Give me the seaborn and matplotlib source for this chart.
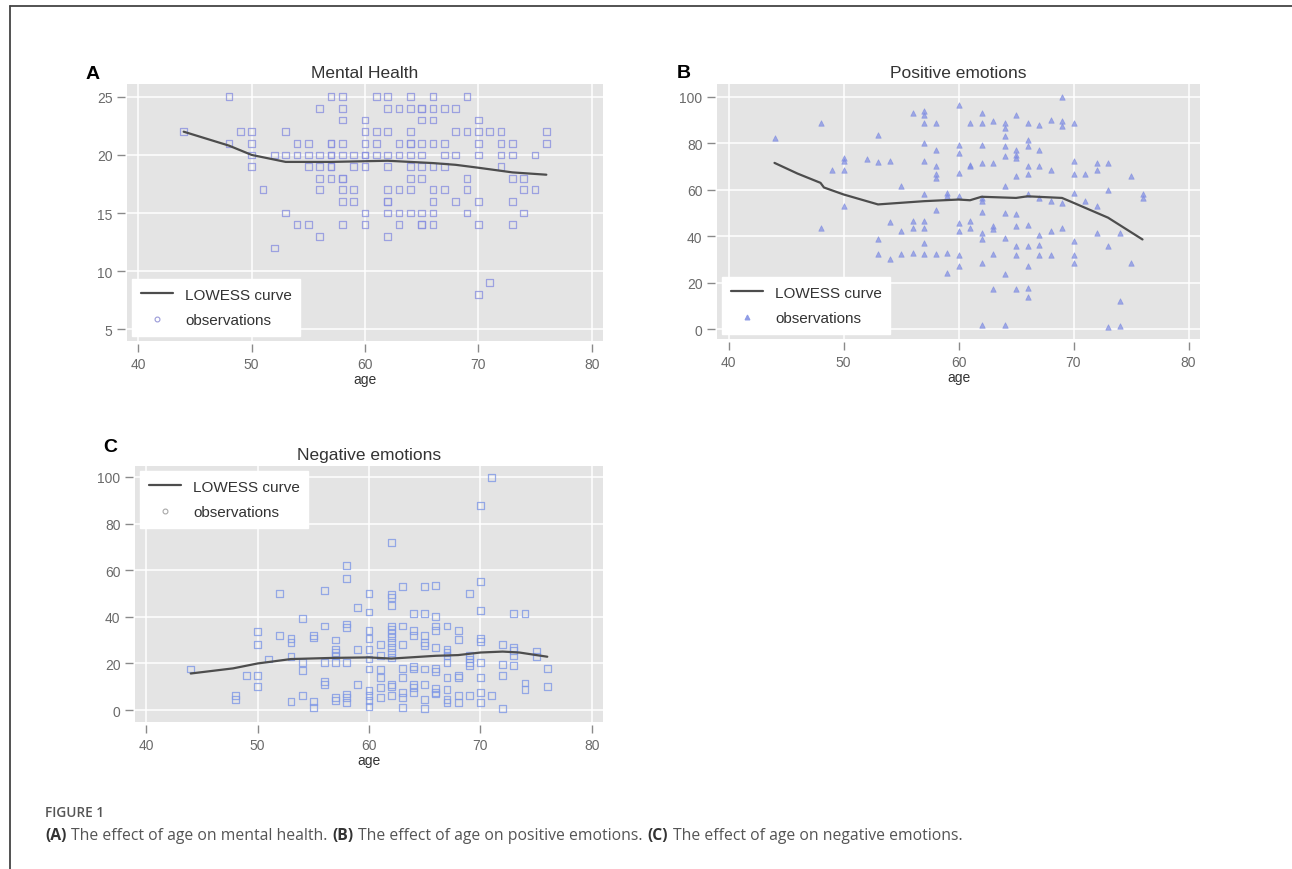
import numpy as np
import pandas as pd
import seaborn as sns
import matplotlib
matplotlib.use("Agg")
from matplotlib import pyplot as plt
from matplotlib.lines import Line2D

# ---- data: (age, score) ----
mental_points = [
    (48, 25), (57, 25), (58, 25), (61, 25), (62, 25), (64, 25), (66, 25), (69, 25),
    (56, 24), (58, 24), (62, 24), (63, 24), (64, 24), (65, 24), (65, 24), (66, 24), (67, 24), (68, 24),
    (58, 23), (60, 23), (65, 23), (66, 23), (70, 23),
    (44, 22), (49, 22), (50, 22), (53, 22), (60, 22), (61, 22), (62, 22), (64, 22), (68, 22),
    (69, 22), (70, 22), (71, 22), (72, 22), (76, 22),
    (48, 21), (50, 21), (54, 21), (55, 21), (57, 21), (57, 21), (58, 21), (60, 21), (61, 21),
    (63, 21), (64, 21), (64, 21), (65, 21), (66, 21), (67, 21), (70, 21), (72, 21), (73, 21), (76, 21),
    (50, 20), (52, 20), (53, 20), (54, 20), (55, 20), (56, 20), (57, 20), (57, 20), (58, 20),
    (59, 20), (60, 20), (60, 20), (61, 20), (62, 20), (63, 20), (64, 20), (65, 20), (67, 20),
    (68, 20), (70, 20), (72, 20), (73, 20), (75, 20),
    (50, 19), (55, 19), (56, 19), (57, 19), (57, 19), (59, 19), (60, 19), (62, 19), (64, 19),
    (65, 19), (66, 19), (67, 19), (72, 19),
    (56, 18), (57, 18), (58, 18), (58, 18), (64, 18), (65, 18), (69, 18), (73, 18), (74, 18),
    (51, 17), (56, 17), (58, 17), (59, 17), (62, 17), (63, 17), (64, 17), (66, 17), (67, 17),
    (69, 17), (74, 17), (75, 17),
    (58, 16), (59, 16), (62, 16), (62, 16), (66, 16), (68, 16), (70, 16), (73, 16),
    (53, 15), (60, 15), (62, 15), (63, 15), (64, 15), (65, 15), (66, 15), (69, 15), (74, 15),
    (54, 14), (55, 14), (58, 14), (60, 14), (63, 14), (65, 14), (65, 14), (66, 14), (70, 14), (73, 14),
    (56, 13), (62, 13), (52, 12), (71, 9), (70, 8),
]
mental_curve_age = [44, 48, 50, 53, 57, 62, 66, 68, 70, 73, 76]
mental_curve_val = [22.0, 20.8, 20.0, 19.4, 19.4, 19.5, 19.3, 19.15, 18.9, 18.5, 18.3]

positive_points = [
    (44, 82.4), (48, 88.8), (48, 43.6), (49, 68.7), (50, 73.7), (50, 72.3), (50, 68.7), (50, 53.2),
    (52, 73.3), (53, 83.8), (53, 71.9), (54, 72.3), (53, 38.6), (53, 32.4), (54, 30.0), (54, 46.0),
    (55, 61.5), (55, 42.2), (55, 32.4), (56, 93.0), (56, 46.5), (56, 43.6), (56, 32.9),
    (57, 93.8), (57, 92.4), (57, 88.8), (57, 80.0), (57, 72.3), (57, 58.4), (57, 46.5), (57, 43.6),
    (57, 37.2), (57, 32.4), (58, 88.8), (58, 77.3), (58, 70.2), (58, 66.6), (58, 65.1), (58, 51.5),
    (58, 32.4), (59, 58.7), (59, 57.2), (59, 32.9), (59, 24.2), (60, 96.7), (60, 79.5), (60, 75.9),
    (60, 67.3), (60, 57.5), (60, 45.8), (60, 42.2), (60, 32.1), (60, 27.1), (61, 88.8), (61, 70.9),
    (61, 70.2), (61, 46.5), (61, 43.6), (62, 93.1), (62, 88.8), (62, 79.5), (62, 71.6), (62, 56.5),
    (62, 55.1), (62, 50.4), (62, 41.5), (62, 38.6), (62, 28.6), (62, 1.7), (63, 89.5), (63, 71.6),
    (63, 44.3), (63, 42.9), (63, 32.4), (63, 17.1), (64, 88.8), (64, 86.7), (64, 83.1), (64, 78.8),
    (64, 74.7), (64, 61.5), (64, 50.1), (64, 39.3), (64, 23.5), (64, 1.7), (65, 92.4), (65, 77.3),
    (65, 75.2), (65, 73.7), (65, 65.9), (65, 49.4), (65, 44.3), (65, 35.7), (65, 32.1), (65, 17.1),
    (66, 88.8), (66, 81.6), (66, 78.8), (66, 70.2), (66, 66.6), (66, 58.0), (66, 45.0), (66, 35.7),
    (66, 27.1), (66, 17.8), (66, 14.0), (67, 88.1), (67, 77.3), (67, 70.2), (67, 56.5), (67, 40.7),
    (67, 36.4), (67, 32.1), (68, 90.2), (68, 68.7), (68, 55.1), (68, 42.2), (68, 32.1), (69, 100.0),
    (69, 89.5), (69, 87.4), (69, 54.4), (69, 43.6), (70, 88.8), (70, 72.3), (70, 66.6), (70, 58.7),
    (70, 37.9), (70, 32.1), (70, 28.6), (71, 66.6), (71, 55.1), (72, 71.6), (72, 68.7), (72, 52.9),
    (72, 41.5), (73, 71.6), (73, 60.1), (73, 35.7), (73, 0.7), (74, 41.5), (74, 12.1), (74, 1.4),
    (75, 65.9), (75, 28.6), (76, 58.0), (76, 56.5),
]
positive_curve_age = [44, 46, 48, 48.3, 50, 53, 57, 60, 61, 62, 65, 66, 69, 70, 73, 76]
positive_curve_val = [71.6, 67.0, 63.0, 61.0, 58.0, 53.7, 55.1, 55.8, 55.5, 57.0, 56.5, 57.2, 56.5, 54.4, 48.0, 38.6]

negative_points = [
    (44, 17.6), (48, 6.1), (48, 4.7), (49, 15.0), (50, 33.6), (50, 28.3), (50, 15.0), (50, 10.0),
    (51, 21.9), (52, 50.0), (52, 32.1), (53, 30.7), (53, 29.0), (53, 22.9), (53, 3.6),
    (54, 39.4), (54, 20.4), (54, 16.9), (54, 6.1), (55, 32.1), (55, 30.9), (55, 3.6), (55, 1.1),
    (56, 51.4), (56, 36.1), (56, 20.4), (56, 12.1), (56, 11.1), (57, 30.1), (57, 26.1), (57, 24.7),
    (57, 23.3), (57, 20.4), (57, 5.4), (57, 4.0), (58, 62.1), (58, 56.4), (58, 36.9), (58, 35.4),
    (58, 20.4), (58, 6.9), (58, 5.4), (58, 3.3), (59, 44.0), (59, 25.9), (59, 11.1),
    (60, 50.0), (60, 42.1), (60, 34.0), (60, 30.7), (60, 26.1), (60, 21.9), (60, 17.6), (60, 8.3),
    (60, 6.1), (60, 4.0), (60, 1.6), (61, 28.3), (61, 23.3), (61, 17.3), (61, 14.0), (61, 9.7),
    (61, 5.4), (62, 71.9), (62, 49.7), (62, 48.3), (62, 44.7), (62, 36.1), (62, 34.7), (62, 33.0),
    (62, 31.1), (62, 29.0), (62, 26.9), (62, 24.7), (62, 22.6), (62, 11.1), (62, 10.1), (62, 6.4),
    (63, 52.9), (63, 36.1), (63, 28.3), (63, 17.9), (63, 14.0), (63, 7.6), (63, 5.4), (63, 1.1),
    (64, 41.4), (64, 34.0), (64, 31.9), (64, 18.7), (64, 17.6), (64, 11.1), (64, 9.7), (64, 7.6),
    (65, 52.9), (65, 41.4), (65, 32.1), (65, 29.0), (65, 27.6), (65, 17.6), (65, 11.1), (65, 4.7),
    (65, 0.7), (66, 53.6), (66, 40.1), (66, 36.1), (66, 34.0), (66, 26.9), (66, 17.9), (66, 16.4),
    (66, 9.3), (66, 7.6), (66, 6.9), (67, 36.1), (67, 25.9), (67, 24.7), (67, 23.3), (67, 20.4),
    (67, 14.0), (67, 9.0), (67, 4.7), (67, 3.3), (68, 34.0), (68, 30.4), (68, 15.0), (68, 14.0),
    (68, 6.1), (68, 3.3), (69, 50.0), (69, 23.3), (69, 21.9), (69, 20.4), (69, 19.0), (69, 6.4),
    (70, 87.6), (70, 55.1), (70, 42.6), (70, 30.7), (70, 29.3), (70, 20.4), (70, 14.0), (70, 7.6),
    (70, 3.3), (71, 99.7), (71, 6.1), (72, 28.3), (72, 19.7), (72, 15.0), (72, 0.7),
    (73, 41.4), (73, 26.9), (73, 25.4), (73, 23.3), (73, 19.0), (74, 41.4), (74, 11.6), (74, 9.0),
    (75, 25.0), (75, 22.9), (76, 17.9), (76, 10.0),
]
negative_curve_age = [44, 47.8, 50, 53, 56.8, 60, 62, 66, 68, 70, 72, 73.5, 76]
negative_curve_val = [15.7, 17.9, 20.0, 21.9, 22.4, 22.6, 22.1, 23.3, 23.6, 24.7, 25.1, 24.7, 22.9]

age_ticks = [40, 50, 60, 70, 80]

W, H = 1292, 870

sns.set_theme(style="darkgrid", rc={
    "axes.facecolor": "#E4E4E4",
    "grid.color": "white",
    "grid.linewidth": 1.1,
})
plt.rcParams["font.family"] = ["Liberation Sans", "DejaVu Sans"]

fig = plt.figure(figsize=(W / 100, H / 100), dpi=100)
fig.patch.set_facecolor("white")


def px_axes(left, top, right, bottom):
    return fig.add_axes([left / W, 1 - bottom / H, (right - left) / W, (bottom - top) / H])


def style_axes(ax, xlim, ylim, yticks):
    ax.set_xlim(*xlim)
    ax.set_ylim(*ylim)
    ax.set_xticks(age_ticks)
    ax.set_yticks(yticks)
    for side in ["top", "right", "bottom", "left"]:
        ax.spines[side].set_visible(False)
    ax.spines["bottom"].set_position(("outward", 2.5))
    ax.spines["left"].set_position(("outward", 1.5))
    ax.tick_params(bottom=True, left=True, direction="out", length=6, width=1,
                   color="#8a8a8a", labelcolor="#6a6a6a", labelsize=10, pad=3)
    ax.set_xlabel("age", fontsize=10, color="#333333", labelpad=1)
    ax.set_ylabel("")


def draw_panel(ax, points, curve_age, curve_val, marker, color, filled, title, legend_loc,
               legend_marker, legend_color):
    df = pd.DataFrame(points, columns=["age", "score"])
    if filled:
        sns.scatterplot(data=df, x="age", y="score", marker=marker, s=15, color=color,
                        edgecolor=color, linewidth=0.6, alpha=0.7, ax=ax, legend=False, zorder=3)
    else:
        sns.scatterplot(data=df, x="age", y="score", marker=marker, s=24, color=color,
                        facecolor="none", edgecolor=color, linewidth=0.9, alpha=0.8,
                        ax=ax, legend=False, zorder=3)
    curve = pd.DataFrame({"age": curve_age, "score": curve_val})
    sns.lineplot(data=curve, x="age", y="score", color="#4d4d4d", lw=1.6, estimator=None,
                 sort=True, ax=ax, zorder=4)
    ax.set_title(title, fontsize=12.5, color="#333333", pad=5)
    handles = [
        Line2D([], [], color="#4d4d4d", lw=1.6),
        Line2D([], [], ls="", marker=legend_marker, ms=3.5, mfc="none" if not filled else legend_color,
               mec=legend_color, mew=0.8),
    ]
    leg = ax.legend(handles, ["LOWESS curve", "observations"], loc=legend_loc, fontsize=11,
                    frameon=True, fancybox=False, framealpha=1, facecolor="white",
                    edgecolor="white", handlelength=2.1, handletextpad=0.8, labelspacing=0.75,
                    borderpad=0.55, borderaxespad=0.35)
    for t in leg.get_texts():
        t.set_color("#333333")
    leg.set_zorder(5)


ax_a = px_axes(127, 85, 603, 342)
draw_panel(ax_a, mental_points, mental_curve_age, mental_curve_val, "s", "#8a90e0", False,
           "Mental Health", "lower left", "o", "#9a9ad8")
style_axes(ax_a, (39, 81), (4, 26.1), [5, 10, 15, 20, 25])

ax_b = px_axes(717, 85, 1200, 340)
draw_panel(ax_b, positive_points, positive_curve_age, positive_curve_val, "^", "#7f8de2", True,
           "Positive emotions", "lower left", "^", "#8f9ce6")
style_axes(ax_b, (39, 81), (-4.3, 105.6), [0, 20, 40, 60, 80, 100])

ax_c = px_axes(135, 467, 603, 723)
draw_panel(ax_c, negative_points, negative_curve_age, negative_curve_val, "s", "#7f98e6", False,
           "Negative emotions", "upper left", "o", "#a8a8a8")
style_axes(ax_c, (39, 81), (-5.1, 104.7), [0, 20, 40, 60, 80, 100])

# panel letters
for letter, x, y in [("A", 86, 79), ("B", 677, 78), ("C", 103, 452)]:
    fig.text(x / W, 1 - y / H, letter, fontsize=14, fontweight="bold", color="black",
             ha="left", va="baseline")

# frame
fig.add_artist(Line2D([10 / W, 1.0], [1 - 7 / H, 1 - 7 / H], color="#444444", lw=1.3,
                      transform=fig.transFigure))
fig.add_artist(Line2D([10 / W, 10 / W], [1 - 7 / H, 0.0], color="#444444", lw=1.3,
                      transform=fig.transFigure))

# caption
cap_font = ["Open Sans", "DejaVu Sans"]
fig.text(45 / W, 1 - 817 / H, "FIGURE 1", fontsize=9.8, fontweight="semibold", color="#555555",
         family=cap_font, ha="left", va="baseline")

caption_parts = [
    ("(A)", "bold"), ("The effect of age on mental health.", "normal"),
    ("(B)", "bold"), ("The effect of age on positive emotions.", "normal"),
    ("(C)", "bold"), ("The effect of age on negative emotions.", "normal"),
]
renderer = fig.canvas.get_renderer()
x = 45
for text, weight in caption_parts:
    t = fig.text(x / W, 1 - 840 / H, text, fontsize=11.3, fontweight=weight,
                 color="#333333" if weight == "bold" else "#555555",
                 family=cap_font, ha="left", va="baseline")
    x += t.get_window_extent(renderer).width + 4.8

fig.savefig("out.png", dpi=100, facecolor="white")
